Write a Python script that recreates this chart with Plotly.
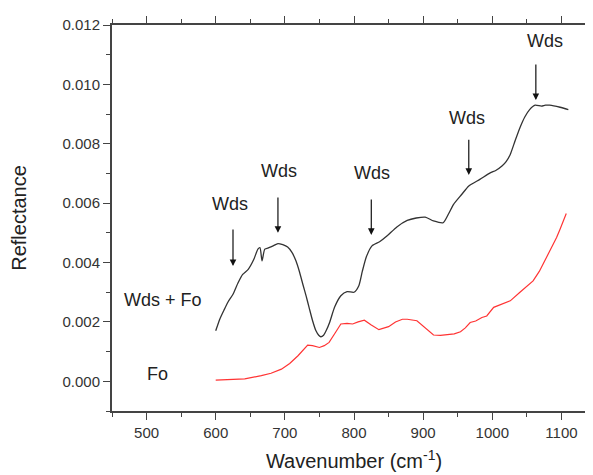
import plotly.graph_objects as go

# Wds + Fo spectrum (black)
wds_fo_x = [600, 606, 612, 618, 625, 632, 639, 647, 655, 661, 664, 667, 671, 677, 683, 690, 697, 704, 710, 716,
            721, 726, 731, 735, 740, 745, 749, 752, 756, 760, 765, 772, 781, 790, 800, 807, 812, 818, 826, 837,
            848, 862, 877, 890, 903, 915, 929, 937, 944, 956, 966, 982, 997, 1005, 1014, 1020, 1026, 1033, 1040,
            1047, 1054, 1062, 1071, 1077, 1083, 1098, 1110]
wds_fo_y = [0.00170, 0.00210, 0.00240, 0.00268, 0.00293, 0.00330, 0.00360, 0.00377, 0.00410, 0.00445,
            0.00450, 0.00406, 0.00445, 0.00450, 0.00456, 0.00464, 0.00460, 0.00452, 0.00435, 0.00406,
            0.00370, 0.00327, 0.00285, 0.00249, 0.00205, 0.00170, 0.00155, 0.00150, 0.00155, 0.00172,
            0.00200, 0.00250, 0.00288, 0.00302, 0.00300, 0.00322, 0.00370, 0.00420, 0.00456, 0.00470,
            0.00490, 0.00520, 0.00542, 0.00550, 0.00553, 0.00540, 0.00534, 0.00565, 0.00596, 0.00630,
            0.00658, 0.00680, 0.00702, 0.00710, 0.00725, 0.00740, 0.00764, 0.00810, 0.00854, 0.00890,
            0.00915, 0.00930, 0.00927, 0.00930, 0.00930, 0.00923, 0.00915]

# Fo spectrum (red)
fo_x = [600, 620, 642, 666, 680, 695, 707, 719, 726, 733, 740, 750, 757, 764, 772, 781, 790, 798, 806, 815,
        825, 836, 850, 860, 870, 877, 891, 903, 915, 925, 935, 945, 954, 961, 968, 976, 985, 992, 1002, 1014,
        1026, 1040, 1050, 1059, 1068, 1076, 1085, 1093, 1098, 1107]
fo_y = [0.00004, 0.00005, 0.00008, 0.00019, 0.00027, 0.00041, 0.00060, 0.00086, 0.00105, 0.00122,
        0.00120, 0.00114, 0.00120, 0.00131, 0.00160, 0.00193, 0.00195, 0.00193, 0.00200, 0.00206,
        0.00190, 0.00174, 0.00184, 0.00200, 0.00209, 0.00209, 0.00204, 0.00180, 0.00156, 0.00155,
        0.00157, 0.00160, 0.00167, 0.00180, 0.00198, 0.00203, 0.00215, 0.00220, 0.00249, 0.00260,
        0.00271, 0.00300, 0.00320, 0.00338, 0.00370, 0.00406, 0.00450, 0.00484, 0.00512, 0.00565]

# "Wds" band markers
band_label = "Wds"
arrow_x = [625, 690, 825, 966, 1063]
arrow_tip_y = [0.00388, 0.00500, 0.00493, 0.00695, 0.00947]
arrow_tail_y = [0.00516, 0.00624, 0.00617, 0.00819, 0.01072]
label_x = [621, 691, 826, 963, 1076]
label_y = [0.00597, 0.00708, 0.00702, 0.00887, 0.01146]

# series labels
series_names = ["Wds + Fo", "Fo"]
series_label_x = [524, 516]
series_label_y = [0.00275, 0.000245]

x_ticks = [500, 600, 700, 800, 900, 1000, 1100]
y_ticks = [0.000, 0.002, 0.004, 0.006, 0.008, 0.010, 0.012]

FONT = "Liberation Sans, Arial, sans-serif"
AX = "#444444"

fig = go.Figure()
fig.add_trace(go.Scatter(x=wds_fo_x, y=wds_fo_y, mode="lines",
                         line=dict(color="#333333", width=1.3, shape="spline", smoothing=0.6),
                         showlegend=False))
fig.add_trace(go.Scatter(x=fo_x, y=fo_y, mode="lines",
                         line=dict(color="#ff3333", width=1.2), showlegend=False))

annotations = []
for xa, yt, yb, lx, ly in zip(arrow_x, arrow_tip_y, arrow_tail_y, label_x, label_y):
    annotations.append(dict(x=xa, y=yt, ax=xa, ay=yb, xref="x", yref="y", axref="x", ayref="y",
                            text="", showarrow=True, arrowhead=2, arrowsize=1.1, arrowwidth=1.2,
                            arrowcolor="#111111", standoff=0, startstandoff=0))
    annotations.append(dict(x=lx, y=ly, xref="x", yref="y", text=band_label, showarrow=False,
                            font=dict(family=FONT, size=18, color="#222222")))
for name, lx, ly in zip(series_names, series_label_x, series_label_y):
    annotations.append(dict(x=lx, y=ly, xref="x", yref="y", text=name, showarrow=False,
                            font=dict(family=FONT, size=18, color="#222222")))

fig.update_layout(
    width=593, height=475,
    margin=dict(l=104, r=5, t=17, b=72),
    paper_bgcolor="white", plot_bgcolor="white",
    font=dict(family=FONT, color="#333333"),
    annotations=annotations,
)
fig.update_xaxes(
    range=[450, 1150], tickvals=x_ticks, ticktext=[str(v) for v in x_ticks],
    ticks="outside", ticklen=7, tickwidth=1.4, tickcolor=AX,
    minor=dict(dtick=50, tick0=450, ticks="outside", ticklen=4, tickwidth=1.3, tickcolor=AX, showgrid=False),
    showline=True, linecolor=AX, linewidth=2, mirror="allticks",
    showgrid=False, zeroline=False,
    tickfont=dict(family=FONT, size=15, color="#333333"),
    title=dict(text="Wavenumber (cm<sup>-1</sup>)", font=dict(family=FONT, size=20, color="#222222"), standoff=14),
    automargin=False,
)
fig.update_yaxes(
    range=[-0.001, 0.012], tickvals=y_ticks, ticktext=[f"{v:.3f}" for v in y_ticks],
    ticks="outside", ticklen=7, tickwidth=1.4, tickcolor=AX,
    minor=dict(dtick=0.001, tick0=-0.001, ticks="outside", ticklen=4, tickwidth=1.3, tickcolor=AX, showgrid=False),
    showline=True, linecolor=AX, linewidth=2, mirror="allticks",
    showgrid=False, zeroline=False,
    tickfont=dict(family=FONT, size=15, color="#333333"),
    title=dict(text="Reflectance", font=dict(family=FONT, size=20, color="#222222"), standoff=30),
    automargin=False,
)

fig.write_html("out.html")
